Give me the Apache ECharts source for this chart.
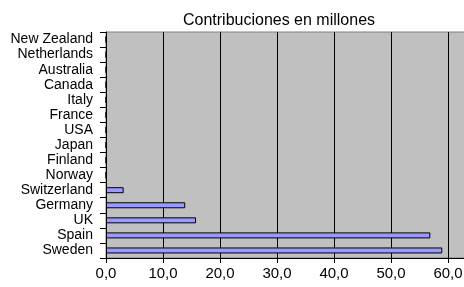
<!DOCTYPE html>
<html>
<head>
<meta charset="utf-8">
<script src="https://cdn.jsdelivr.net/npm/echarts@6/dist/echarts.min.js"></script>
<style>
  html, body { margin: 0; padding: 0; background: #fff; overflow: hidden; }
  /* the original chart is cut off on the right, so the canvas runs past the window */
  #chart { width: 510px; height: 287px; }
</style>
</head>
<body>
<div id="chart"></div>
<script>
// categories, bottom to top as drawn on the y axis
const countries = ['Sweden', 'Spain', 'UK', 'Germany', 'Switzerland', 'Norway', 'Finland',
  'Japan', 'USA', 'France', 'Italy', 'Canada', 'Australia', 'Netherlands', 'New Zealand'];
// contribuciones en millones
const contributions = [59.0, 56.9, 15.8, 13.9, 3.1, 0, 0, 0, 0, 0, 0, 0, 0, 0, 0];
const titleText = 'Contribuciones en millones';

const chart = echarts.init(document.getElementById('chart'));

// 10.0 -> "10,0"
const fmt = v => v.toFixed(1).replace('.', ',');

chart.setOption({
  animation: false,
  textStyle: { fontFamily: 'Liberation Sans, Arial, sans-serif' },
  title: {
    text: titleText,
    left: 274,
    top: 8,
    textAlign: 'center',
    textStyle: { fontSize: 16, fontWeight: 'normal', color: '#000' }
  },
  grid: {
    left: 106,
    top: 32,
    right: 5,
    bottom: 29,
    outerBoundsMode: 'none',
    show: true,
    backgroundColor: '#c0c0c0',
    borderColor: '#808080',
    borderWidth: 1
  },
  xAxis: {
    type: 'value',
    min: 0,
    max: 70,
    interval: 10,
    axisLine: { show: true, lineStyle: { color: '#000' } },
    axisTick: { show: true, length: 5, lineStyle: { color: '#000' } },
    axisLabel: { color: '#000', fontSize: 15, margin: 8, formatter: fmt },
    splitLine: { show: true, lineStyle: { color: '#000', width: 1 } }
  },
  yAxis: {
    type: 'category',
    data: countries,
    axisLine: { show: true, lineStyle: { color: '#000' } },
    axisTick: { show: true, length: 6, lineStyle: { color: '#000' } },
    axisLabel: { color: '#000', fontSize: 14, margin: 13, interval: 0 },
    splitLine: { show: false }
  },
  series: [{
    type: 'bar',
    data: contributions,
    barWidth: 6,
    itemStyle: { color: '#9999ff', borderColor: '#000', borderWidth: 1 }
  }]
});
</script>
</body>
</html>
